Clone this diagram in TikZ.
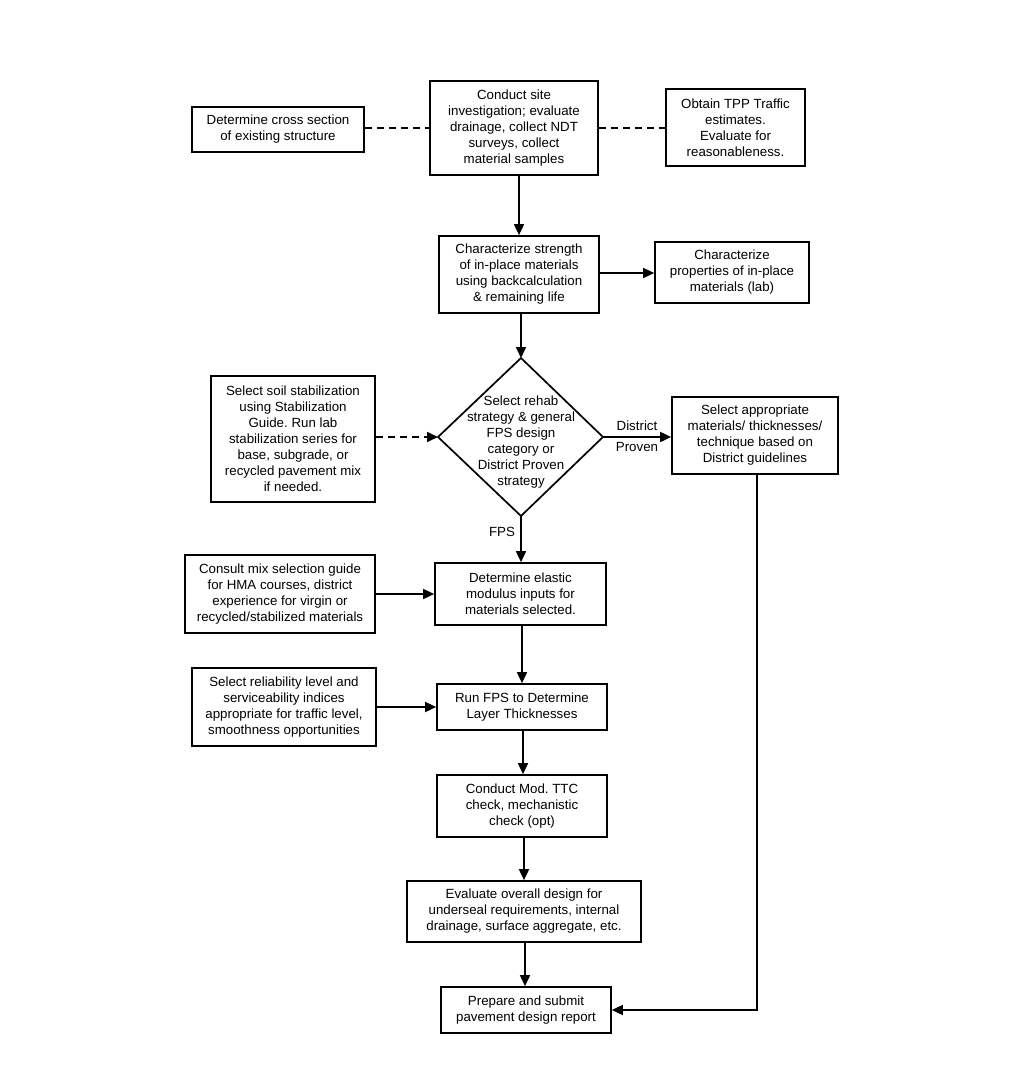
\documentclass[tikz,border=0pt]{standalone}
\usepackage{fontspec}
\setmainfont{Liberation Sans}
\frenchspacing
\usetikzlibrary{arrows.meta,calc}
\begin{document}
\begin{tikzpicture}[x=1pt,y=-1pt,
  txt/.style={font=\fontsize{13.3}{16}\selectfont\frenchspacing,align=center,inner sep=0pt},
  box/.style={txt,draw,line width=1.7pt},
  arr/.style={line width=1.7pt,-{Triangle[length=11pt,width=10pt]}},
  dsh/.style={line width=1.7pt,dash pattern=on 7pt off 5pt}]
\useasboundingbox (0,0) rectangle (1020,1073);
\fill[white] (0,0) rectangle (1020,1073);

\node[box,minimum width=168pt,minimum height=94pt] (top) at (514,128)
  {Conduct site\\investigation; evaluate\\drainage, collect NDT\\surveys, collect\\material samples};
\node[box,minimum width=172pt,minimum height=45pt] (left1) at (278,129.5)
  {Determine cross section\\of existing structure};
\node[box,minimum width=139pt,minimum height=77pt] (right1) at (735.5,127.5)
  {Obtain TPP Traffic\\estimates.\\Evaluate for\\reasonableness.};
\node[box,minimum width=160pt,minimum height=77pt] (cs) at (519,274.5)
  {Characterize strength\\of in-place materials\\using backcalculation\\\& remaining life};
\node[box,minimum width=154pt,minimum height=61pt] (cp) at (732,272.5)
  {Characterize\\properties of in-place\\materials (lab)};

\coordinate (dN) at (521,358);
\coordinate (dS) at (521,516);
\coordinate (dW) at (438,437);
\coordinate (dE) at (603,437);
\draw[line width=1.7pt,line join=miter] (dN) -- (dE) -- (dS) -- (dW) -- cycle;
\node[txt] (dtxt) at (521,442)
  {Select rehab\\strategy \& general\\FPS design\\category or\\District Proven\\strategy};

\node[box,minimum width=164pt,minimum height=126pt] (soil) at (293,439)
  {Select soil stabilization\\using Stabilization\\Guide. Run lab\\stabilization series for\\base, subgrade, or\\recycled pavement mix\\if needed.};
\node[box,minimum width=166pt,minimum height=77pt] (sa) at (755,435.5)
  {Select appropriate\\materials/ thicknesses/\\technique based on\\District guidelines};

\node[box,minimum width=171pt,minimum height=62pt] (de) at (520.5,594)
  {Determine elastic\\modulus inputs for\\materials selected.};
\node[box,minimum width=190pt,minimum height=78pt] (cm) at (280,594)
  {Consult mix selection guide\\for HMA courses, district\\experience for virgin or\\recycled/stabilized materials};
\node[box,minimum width=184pt,minimum height=78pt] (rel) at (284,707)
  {Select reliability level and\\serviceability indices\\appropriate for traffic level,\\smoothness opportunities};
\node[box,minimum width=170pt,minimum height=46pt] (fps) at (522,707)
  {Run FPS to Determine\\Layer Thicknesses};
\node[box,minimum width=170pt,minimum height=62pt] (ttc) at (522,806)
  {Conduct Mod. TTC\\check, mechanistic\\check (opt)};
\node[box,minimum width=234pt,minimum height=61pt] (ev) at (524,911.5)
  {Evaluate overall design for\\underseal requirements, internal\\drainage, surface aggregate, etc.};
\node[box,minimum width=170pt,minimum height=46pt] (pr) at (526,1010)
  {Prepare and submit\\pavement design report};

\node[txt] (ldist) at (637,426) {District};
\node[txt] (lprov) at (637,447) {Proven};
\node[txt] (lfps) at (502,532) {FPS};

\draw[dsh] (left1.east |- top.west) -- (top.west);
\draw[dsh] (top.east) -- (right1.west |- top.east);
\draw[arr] (cs.north |- top.south) -- (cs.north);
\draw[arr] (cs.east |- 0,273) -- (cp.west |- 0,273);
\draw[arr] (cs.south -| dN) -- (dN);
\draw[arr,dash pattern=on 7pt off 5pt] (soil.east |- dW) -- (dW);
\draw[arr] (dE) -- (dE -| sa.west);
\draw[arr] (dS) -- (dS |- de.north);
\draw[arr] (cm.east |- de.west) -- (de.west);
\draw[arr] (de.south -| fps.north) -- (fps.north);
\draw[arr] (rel.east |- fps.west) -- (fps.west);
\draw[arr] (fps.south -| 523,0) -- (ttc.north -| 523,0);
\draw[arr] (ttc.south -| ev.north) -- (ev.north);
\draw[arr] (ev.south -| 525,0) -- (pr.north -| 525,0);
\draw[arr] (sa.south -| 757,0) |- (pr.east);
\end{tikzpicture}
\end{document}
